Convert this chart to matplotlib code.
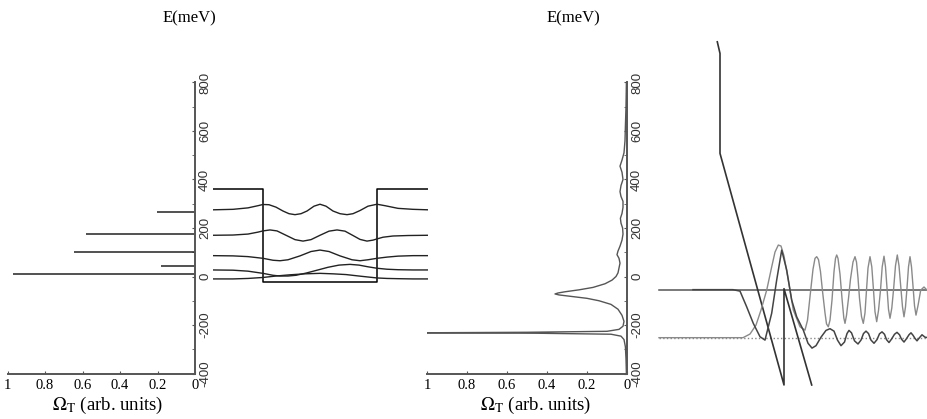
import numpy as np
import matplotlib.pyplot as plt

plt.rcParams['font.family'] = ['Liberation Serif', 'DejaVu Serif']
plt.rcParams['mathtext.fontset'] = 'stix'
plt.rcParams['axes.unicode_minus'] = False

W, H = 928, 419

# left panel: sharp transmission peaks (energy meV, height)
peak_E = [265, 174, 100, 43, 10]
peak_A = [0.205, 0.58, 0.645, 0.18, 0.97]

# quantum well profile (position nm, energy meV)
well_x = [0, 5, 5, 16.4, 16.4, 21.5]
well_E = [360, 360, -21, -21, 360, 360]

# levels with wavefunctions drawn on top
lev1_x = [0, 2, 3.5, 4.5, 5.0, 5.6, 6.3, 7.0, 7.6, 8.2, 8.8, 9.4, 10.1, 10.7, 11.3, 12.0, 12.7,
          13.4, 14.0, 14.7, 15.5, 16.4, 17.2, 18.5, 20, 21.5]
lev1_E = [275, 277, 283, 292, 297, 296, 286, 270, 259, 255, 259, 270, 290, 298, 290, 270, 259,
          255, 259, 272, 290, 298, 292, 281, 277, 275]
lev2_x = [0, 2, 3.5, 4.5, 5.0, 5.7, 6.4, 7.3, 8.2, 9.0, 9.8, 10.7, 11.6, 12.4, 13.2, 14.0, 14.7,
          15.4, 16.0, 16.4, 17.0, 18.0, 19.5, 21.5]
lev2_E = [170, 171, 175, 183, 188, 192, 188, 170, 152, 146, 152, 170, 187, 192, 187, 169, 153,
          146, 150, 155, 162, 167, 169, 170]
lev3_x = [0, 2, 3.5, 5, 6.0, 6.7, 7.5, 8.7, 9.8, 10.7, 11.6, 12.7, 13.9, 14.7, 15.5, 16.4, 17.4,
          18.5, 20, 21.5]
lev3_E = [86, 85, 82, 75, 67, 65, 69, 85, 103, 109, 103, 85, 69, 65, 69, 75, 80, 84, 86, 86]
lev4_x = [0, 2, 3.5, 5, 6, 6.7, 7.5, 8.3, 9.3, 10.5, 11.5, 12.6, 13.7, 14.6, 15.5, 16.4, 17.4,
          18.5, 20, 21.5]
lev4_E = [27, 26, 22, 13, 5, 2, 2, 5, 14, 27, 38, 47, 50, 47, 40, 34, 30, 28, 27, 27]
lev5_x = [0, 2, 3.5, 5, 6.3, 7.7, 9.2, 10.7, 12.0, 13.3, 14.8, 16.4, 17.4, 18.5, 20, 21.5]
lev5_E = [-10, -10, -8, -4, 2, 7, 11, 13, 11, 8, 1, -6, -8, -9, -10, -10]
levels = [(lev1_x, lev1_E), (lev2_x, lev2_E), (lev3_x, lev3_E), (lev4_x, lev4_E), (lev5_x, lev5_E)]

# middle panel: broadened spectrum
mid_E = [800, 700, 620, 560, 510, 480, 455, 430, 400, 375, 350, 330, 310, 285, 260, 240, 220,
         200, 175, 150, 125, 105, 90, 75, 55, 35, 15, 0, -15, -30, -45, -55, -63, -68, -72, -76,
         -82, -90, -100, -115, -135, -160, -185, -205, -218, -226, -230, -232, -234, -238, -246,
         -260, -290, -340, -400]
mid_A = [0.003, 0.005, 0.008, 0.01, 0.015, 0.025, 0.035, 0.025, 0.02, 0.03, 0.035, 0.03, 0.02,
         0.02, 0.025, 0.033, 0.03, 0.022, 0.02, 0.025, 0.035, 0.045, 0.05, 0.04, 0.035, 0.04,
         0.045, 0.055, 0.075, 0.11, 0.17, 0.24, 0.31, 0.345, 0.36, 0.34, 0.28, 0.2, 0.14, 0.08,
         0.045, 0.025, 0.015, 0.02, 0.04, 0.1, 0.5, 1.0, 0.45, 0.08, 0.03, 0.015, 0.008, 0.005,
         0.003]

# right panel: tilted potential (nm, meV)
pot_x = [6.23, 6.5, 6.5, 12.9, 12.9, 15.67]
pot_E = [968, 920, 508, -447, -50, -447]
upper_E = -54
lower_E = -252

wa_x = [3.8, 7.8, 8.5, 9.17, 9.83, 10.5, 11.0, 11.67, 12.17, 12.67, 13.17, 13.67, 14.17, 14.83,
        15.3, 15.7, 16.1, 16.6, 17.1, 17.5, 17.9, 18.25, 18.6, 18.95, 19.2, 19.4, 19.65, 19.95,
        20.3, 20.6, 20.85, 21.1, 21.35, 21.6, 21.9, 22.2, 22.45, 22.7, 22.95, 23.15, 23.4,
        23.65, 23.95, 24.2, 24.45, 24.65, 24.9, 25.15, 25.4, 25.6, 25.8, 26.0, 26.2, 26.45,
        26.7, 27.0, 27.3]
wa_E = [-54, -54, -60, -125, -193, -248, -262, -151, -14, 109, 27, -97, -166, -221,
        -275, -295, -285, -250, -222, -215, -225, -262, -285, -270, -235, -222, -232, -265,
        -278, -262, -235, -225, -235, -262, -275, -260, -236, -228, -238, -260, -272,
        -258, -238, -230, -240, -258, -270, -256, -240, -232, -242, -255, -265, -252,
        -240, -250, -252]

wb_x = [0.4, 8.8, 9.5, 10.1, 10.6, 11.17, 11.67, 12.0, 12.33, 12.6, 12.9, 13.33, 13.83, 14.5,
        15.0, 15.25, 15.5, 15.8, 16.0, 16.17, 16.35, 16.55, 16.75, 17.0, 17.15, 17.33, 17.5,
        17.7, 17.9, 18.05, 18.17, 18.3, 18.5, 18.7, 18.88, 19.0, 19.15, 19.35, 19.55, 19.8,
        20.0, 20.15, 20.3, 20.45, 20.65, 20.83, 21.0, 21.15, 21.3, 21.5, 21.68, 21.85, 22.0,
        22.17, 22.35, 22.55, 22.72, 22.9, 23.05, 23.2, 23.35, 23.5, 23.68, 23.87, 24.05,
        24.23, 24.4, 24.57, 24.75, 24.9, 25.05, 25.2, 25.35, 25.5, 25.65, 25.8, 25.95, 26.1,
        26.3, 26.57, 26.9, 27.3]
wb_E = [-252, -252, -237, -200, -138, -56, 40, 101, 130, 126, 85, -15, -138, -207,
        -221, -180, -83, 30, 75, 82, 70, 20, -60, -150, -195, -207, -180,
        -97, 20, 75, 89, 75, 10, -90, -170, -193, -160, -90, -10, 60,
        82, 60, -5, -90, -165, -193, -150, -56, 35, 82, 40, -56, -145,
        -186, -140, -56, 40, 84, 40, -47, -135, -172, -130, -47, 45,
        89, 45, -39, -125, -166, -125, -47, 40, 82, 40, -39, -120, -159,
        -120, -56, -43, -60]

fig = plt.figure(figsize=(W / 100, H / 100), dpi=100)


def px_axes(x0, y0, x1, y1):
    return fig.add_axes([x0 / W, 1 - y1 / H, (x1 - x0) / W, (y1 - y0) / H])


def spectrum_axes(ax):
    ax.set_xlim(1, 0)
    ax.set_ylim(-400, 800)
    for s in ['top', 'left']:
        ax.spines[s].set_visible(False)
    for s in ['bottom', 'right']:
        ax.spines[s].set_color('#555555')
        ax.spines[s].set_linewidth(1.4)
    ax.yaxis.tick_right()
    ax.set_xticks([1, 0.8, 0.6, 0.4, 0.2, 0])
    ax.set_xticklabels(['1', '0.8', '0.6', '0.4', '0.2', '0'])
    ax.set_yticks([-400, -200, 0, 200, 400, 600, 800])
    ax.set_yticks(np.arange(-300, 800, 200), minor=True)
    ax.tick_params(axis='x', direction='in', length=2, pad=4, labelsize=10.5, color='#555555')
    ax.tick_params(axis='y', which='both', direction='in', length=2, pad=3, color='#555555')
    for lab in ax.get_yticklabels():
        lab.set_rotation(90)
        lab.set_va('center')
        lab.set_family('Liberation Sans')
        lab.set_fontsize(9.5)
        lab.set_color('#333333')
    ax.patch.set_alpha(0)


# left spectrum
ax1 = px_axes(7.5, 82.5, 195, 373.5)
spectrum_axes(ax1)
ax1.hlines(peak_E, 0, peak_A, color='#222222', lw=1.1)

# well diagram
axw = px_axes(213, 82.5, 428, 373.5)
axw.set_xlim(0, 21.5)
axw.set_ylim(-400, 800)
axw.axis('off')
axw.plot(well_x, well_E, color='black', lw=1.1)
for lx, le in levels:
    axw.plot(lx, le, color='#222222', lw=1.0)

# middle spectrum
ax2 = px_axes(427, 82.5, 627, 373.5)
spectrum_axes(ax2)
ax2.plot(mid_A, mid_E, color='#555555', lw=1.0)

# right panel
ax3 = px_axes(655, 20, 928, 400)
ax3.set_xlim(0, 27.3)
ax3.set_ylim(-509, 1058)
ax3.axis('off')
ax3.axhline(upper_E, xmin=0.4 / 27.3, color='#555555', lw=1.1)
ax3.axhline(lower_E, xmin=0.4 / 27.3, color='#888888', lw=1.0, ls=':')
ax3.plot(pot_x, pot_E, color='#333333', lw=1.2)
ax3.plot(wb_x, wb_E, color='#8a8a8a', lw=1.0)
ax3.plot(wa_x, wa_E, color='#444444', lw=1.1)

# labels
for cx in [189, 573]:
    fig.text(cx / W, 1 - 18 / H, 'E(meV)', ha='center', va='center', fontsize=12)
for cx in [108, 536]:
    fig.text(cx / W, 1 - 405 / H, r'$\Omega_{\rm T}$ (arb. units)', ha='center', va='center',
             fontsize=13.5)

fig.savefig('out.png', dpi=100)
